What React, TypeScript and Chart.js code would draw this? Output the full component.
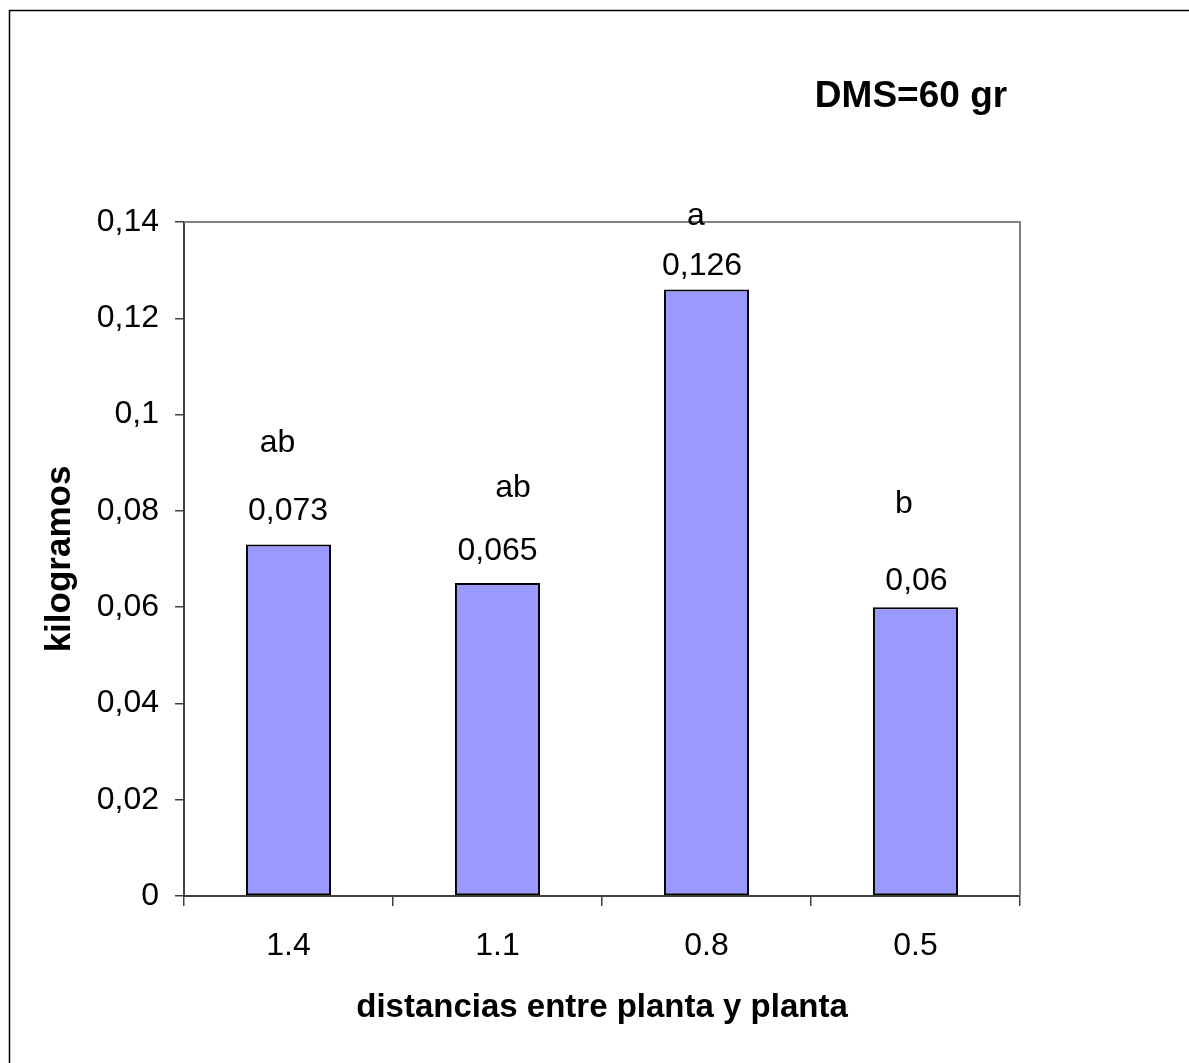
import React, { useEffect, useRef } from "react";
import { Chart, registerables } from "chart.js";

Chart.register(...registerables);

// ---- data ----
const categories = ["1.4", "1.1", "0.8", "0.5"];
const values = [0.073, 0.065, 0.126, 0.06];
const valueLabels = ["0,073", "0,065", "0,126", "0,06"];
const letterLabels = ["ab", "ab", "a", "b"];
const letterValues = [0.0922, 0.0829, 0.1394, 0.0796];
const yTickLabels = ["0", "0,02", "0,04", "0,06", "0,08", "0,1", "0,12", "0,14"];
const yMin = 0;
const yMax = 0.14;
const yStep = 0.02;
const xTitle = "distancias entre planta y planta";
const yTitle = "kilogramos";
const noteText = "DMS=60 gr";

// ---- annotation placement (pixels) ----
const valueLabelGap = [24.6, 23, 14.4, 17];
const valueLabelDx = [-0.5, 0, -4.5, 1];
const letterDx = [-11, 15.5, -10.5, -11.5];

const FONT = "'Liberation Sans', Arial, sans-serif";

const decorPlugin = {
  id: "decor",
  beforeDatasetsDraw(chart: any) {
    const { ctx, chartArea } = chart;
    ctx.save();
    // outer frame (left & top visible)
    ctx.strokeStyle = "#000000";
    ctx.lineWidth = 1.5;
    ctx.beginPath();
    ctx.moveTo(9.5, 1063);
    ctx.lineTo(9.5, 10.5);
    ctx.lineTo(1189, 10.5);
    ctx.stroke();
    // plot area top & right border
    ctx.strokeStyle = "#808080";
    ctx.lineWidth = 2;
    ctx.beginPath();
    ctx.moveTo(chartArea.left, chartArea.top);
    ctx.lineTo(chartArea.right, chartArea.top);
    ctx.lineTo(chartArea.right, chartArea.bottom);
    ctx.stroke();
    ctx.restore();
  },
  afterDatasetsDraw(chart: any) {
    const { ctx } = chart;
    const meta = chart.getDatasetMeta(0);
    const yScale = chart.scales.y;
    ctx.save();
    ctx.fillStyle = "#000000";
    ctx.textAlign = "center";
    ctx.textBaseline = "alphabetic";
    ctx.font = `32px ${FONT}`;
    meta.data.forEach((el: any, i: number) => {
      ctx.fillText(valueLabels[i], el.x + valueLabelDx[i], el.y - valueLabelGap[i]);
      ctx.fillText(letterLabels[i], el.x + letterDx[i], yScale.getPixelForValue(letterValues[i]));
    });
    ctx.font = `bold 37px ${FONT}`;
    ctx.fillText(noteText, 911, 107);
    ctx.restore();
  },
};

export default function App() {
  const canvasRef = useRef<HTMLCanvasElement | null>(null);

  useEffect(() => {
    if (!canvasRef.current) return;
    const chart = new Chart(canvasRef.current, {
      type: "bar",
      data: {
        labels: categories,
        datasets: [
          {
            data: values,
            backgroundColor: "#9999FF",
            borderColor: "#000000",
            borderWidth: 2,
            borderSkipped: false,
            categoryPercentage: 1,
            barPercentage: 0.407,
          },
        ],
      },
      options: {
        responsive: false,
        animation: false,
        devicePixelRatio: 1,
        layout: { padding: { left: 0, top: 222, right: 169, bottom: 0 } },
        plugins: {
          legend: { display: false },
          tooltip: { enabled: false },
        },
        scales: {
          x: {
            grid: {
              display: true,
              offset: true,
              drawOnChartArea: false,
              drawTicks: true,
              tickLength: 10,
              color: "#404040",
              lineWidth: 1.5,
            },
            border: { display: true, color: "#404040", width: 2 },
            ticks: {
              color: "#000000",
              font: { family: FONT, size: 32 },
              padding: 21,
              maxRotation: 0,
            },
            title: {
              display: true,
              text: xTitle,
              color: "#000000",
              font: { family: FONT, size: 33, weight: "bold" },
              padding: { top: 0, bottom: 35 },
            },
            afterFit(scale: any) {
              scale.height = 167;
            },
          },
          y: {
            min: yMin,
            max: yMax,
            grid: {
              display: true,
              drawOnChartArea: false,
              drawTicks: true,
              tickLength: 9,
              color: "#404040",
              lineWidth: 1.5,
            },
            border: { display: true, color: "#404040", width: 2 },
            ticks: {
              stepSize: yStep,
              color: "#000000",
              font: { family: FONT, size: 32 },
              padding: 16,
              callback: (v: any, i: number) =>
                yTickLabels[i] !== undefined ? yTickLabels[i] : String(v).replace(".", ","),
            },
            title: {
              display: true,
              text: yTitle,
              color: "#000000",
              font: { family: FONT, size: 35, weight: "bold" },
              padding: { top: 39, bottom: 0 },
            },
            afterFit(scale: any) {
              scale.width = 184;
            },
          },
        },
      },
      plugins: [decorPlugin],
    });
    return () => chart.destroy();
  }, []);

  return (
    <div style={{ position: "absolute", left: 0, top: 0, width: 1189, height: 1063, background: "#ffffff" }}>
      <canvas ref={canvasRef} width={1189} height={1063} style={{ display: "block" }} />
    </div>
  );
}
